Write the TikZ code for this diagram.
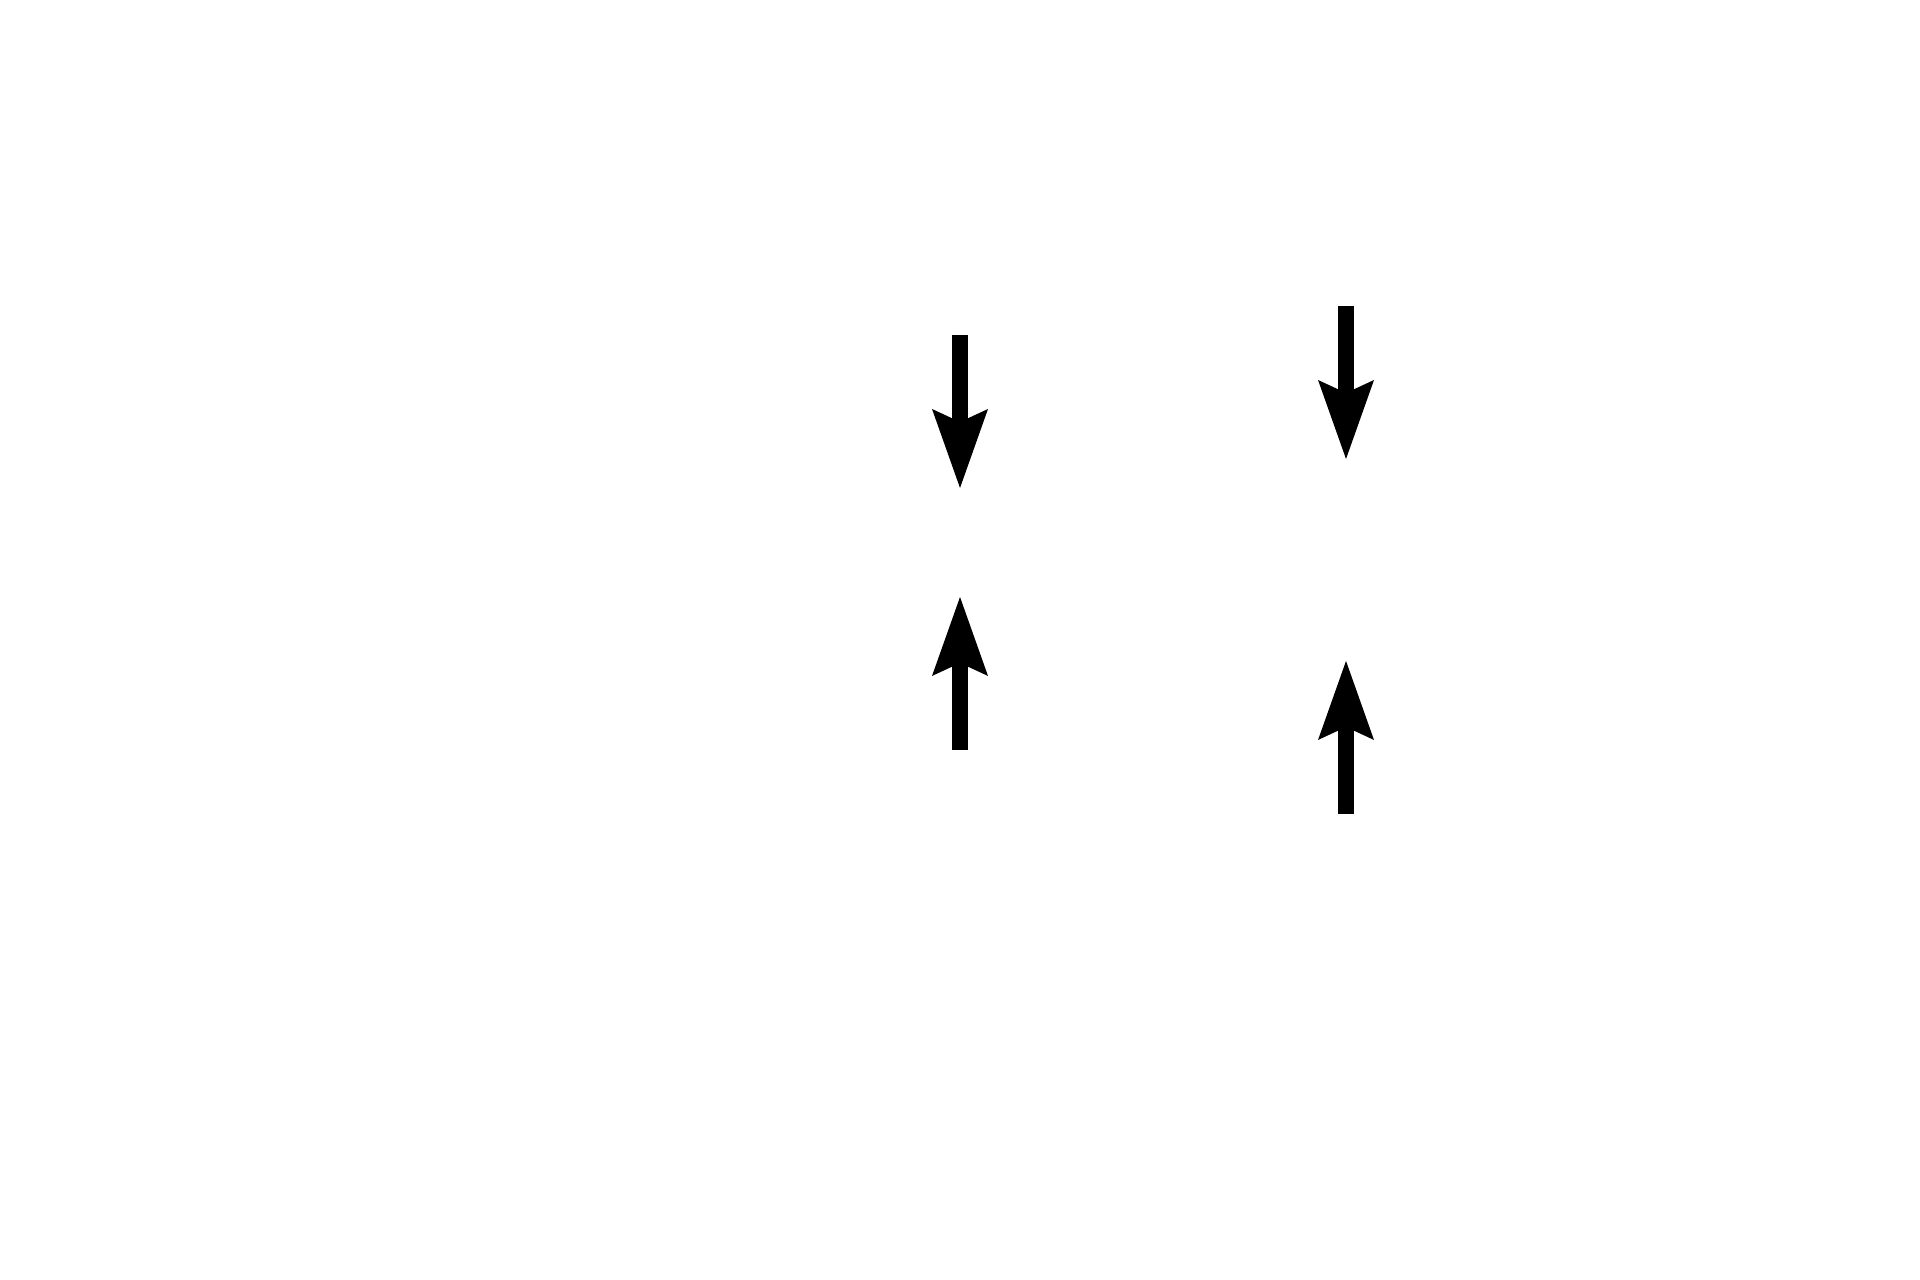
\documentclass[tikz,border=0pt]{standalone}
\usetikzlibrary{arrows.meta}
\usetikzlibrary{calc}

\begin{document}
\begin{tikzpicture}[scale=1,
    squeeze/.style={line width=0.16cm, -{Stealth[length=7.9mm, width=5.6mm, inset=1.3mm, line width=0pt]}}]
                \useasboundingbox (0,0) rectangle (19.2,12.8);
                % Define the coordinates of the arrow ends
                \coordinate (lt) at (9.60,9.45);
                \coordinate (ltip) at (9.60,7.92);
                \coordinate (lb) at (9.60,5.30);
                \coordinate (lbtip) at (9.60,6.83);
                \coordinate (rt) at (13.46,9.74);
                \coordinate (rtip) at (13.46,8.21);
                \coordinate (rb) at (13.46,4.66);
                \coordinate (rbtip) at (13.46,6.19);

                % Draw the arrows
                \foreach \from/\to in {lt/ltip, lb/lbtip, rt/rtip, rb/rbtip}
                    \draw[squeeze] (\from) -- (\to);

            \end{tikzpicture}
\end{document}
